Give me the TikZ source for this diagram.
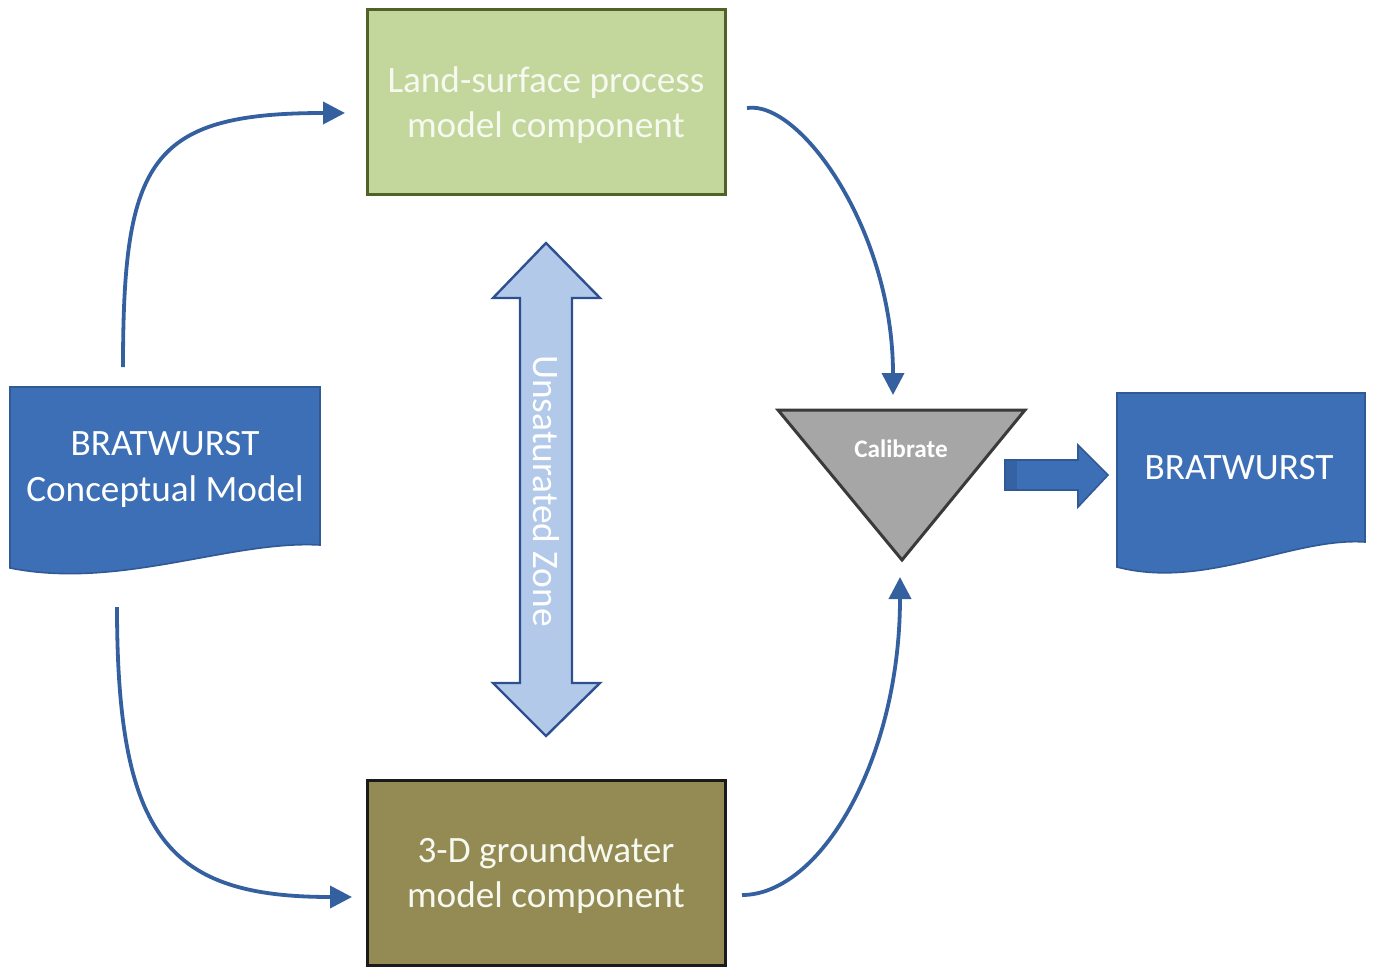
\documentclass[tikz,border=0pt]{standalone}
\usepackage{fontspec}
\setmainfont{Carlito}
\usetikzlibrary{arrows.meta}
\definecolor{docblue}{HTML}{3D6FB6}
\definecolor{docedge}{HTML}{2F5A96}
\definecolor{flowblue}{HTML}{35609F}
\definecolor{zonefill}{HTML}{B2C9E9}
\definecolor{zoneedge}{HTML}{2F5090}
\definecolor{landfill}{HTML}{C3D69B}
\definecolor{landedge}{HTML}{4F6228}
\definecolor{gwfill}{HTML}{948A54}
\definecolor{gwedge}{HTML}{1A1A1A}
\definecolor{calfill}{HTML}{A6A6A6}
\definecolor{caledge}{HTML}{3A3A3A}
\definecolor{lighttext}{HTML}{F6F9EF}
\begin{document}
\begin{tikzpicture}[x=0.5pt,y=-0.5pt,
  box/.style={draw,line width=1.5pt,minimum width=179pt,minimum height=92.5pt,
    inner sep=0pt,text=lighttext,align=center,font=\fontsize{18.6}{22.5}\selectfont},
  lbl/.style={text=white,align=center,font=\fontsize{18.6}{23}\selectfont,inner sep=0pt},
  docshape/.style={fill=docblue,draw=docedge,line width=0.8pt},
  flow/.style={draw=flowblue,line width=1.9pt,-{Triangle[length=11pt,width=11pt]}},
]
\useasboundingbox (0,0) rectangle (1374,973);

% boxes
\node[box,fill=landfill,draw=landedge] (land) at (546,102.5) {};
\node[text=lighttext,align=center,font=\fontsize{18.6}{22.5}\selectfont,inner sep=0pt]
  (landtxt) at (546,105.5) {Land-surface process\\model component};
\node[box,fill=gwfill,draw=gwedge] (gw) at (546,872.5) {};
\node[text=lighttext,align=center,font=\fontsize{18.6}{22.5}\selectfont,inner sep=0pt]
  (gwtxt) at (546,875) {3-D groundwater\\model component};

% left document
\draw[docshape] (10,387) -- (320,387) -- (320,545)
  .. controls (230,540) and (120,590) .. (10,568) -- cycle;
\node[lbl] (concept) at (165,469) {BRATWURST\\Conceptual Model};

% right document
\draw[docshape] (1117,393) -- (1365,393) -- (1365,542)
  .. controls (1293,537) and (1205,590) .. (1117,567) -- cycle;
\node[lbl] (final) at (1239,468) {BRATWURST};

% calibrate triangle
\draw[fill=calfill,draw=caledge,line width=1.5pt,line join=miter]
  (778,410) -- (1025,410) -- (902,560) -- cycle;
\node[text=white,font=\bfseries\fontsize{12.6}{14}\selectfont,inner sep=0pt] (calib) at (901,449) {Calibrate};

% block arrow
\draw[docshape] (1005,460) -- (1078,460) -- (1078,445) -- (1108,475)
  -- (1078,507) -- (1078,490) -- (1005,490) -- cycle;
\fill[docedge,opacity=0.6] (1006,461) rectangle (1017,489);

% double arrow (unsaturated zone)
\draw[fill=zonefill,draw=zoneedge,line width=1.2pt,line join=miter]
  (546,243) -- (600,298) -- (572,298) -- (572,683) -- (600,683) -- (546,736)
  -- (493,683) -- (520,683) -- (520,298) -- (493,298) -- cycle;
\node[text=white,font=\fontsize{18.7}{22}\selectfont,rotate=-90,inner sep=0pt] (zone) at (546,491) {Unsaturated Zone};

% connector end points
\coordinate (c1s) at (123,367);
\coordinate (c1e) at (345,113);
\coordinate (c2s) at (747,108);
\coordinate (c2e) at (893,395);
\coordinate (c3s) at (117,607);
\coordinate (c3e) at (352,897);
\coordinate (c4s) at (742,895);
\coordinate (c4e) at (900,577);

\draw[flow] (c1s) .. controls (123,160) and (150,113) .. (c1e);
\draw[flow] (c2s) .. controls (800,100) and (893,230) .. (c2e);
\draw[flow] (c3s) .. controls (117,840) and (170,897) .. (c3e);
\draw[flow] (c4s) .. controls (820,895) and (900,760) .. (c4e);
\end{tikzpicture}
\end{document}
